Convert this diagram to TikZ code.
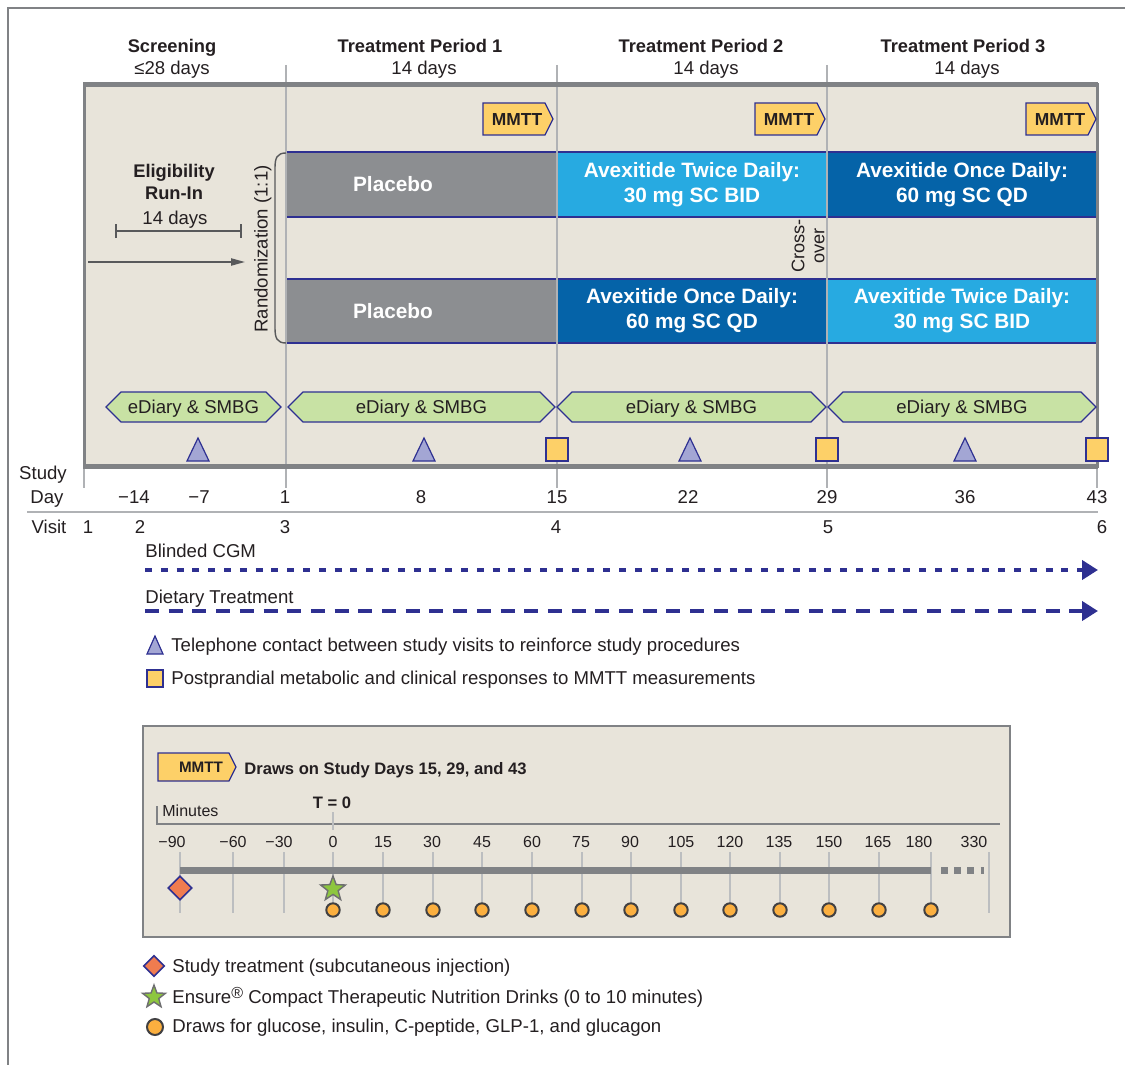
\documentclass[tikz,border=0pt]{standalone}
\usepackage{fontspec}
\setmainfont{Liberation Sans}
\usetikzlibrary{arrows.meta,shapes.geometric}
\definecolor{ink}{rgb}{0.14, 0.12, 0.13}
\definecolor{navy}{rgb}{0.18, 0.19, 0.57}
\definecolor{paper}{rgb}{0.91, 0.894, 0.855}
\definecolor{frame}{rgb}{0.5, 0.51, 0.52}
\definecolor{tlgray}{rgb}{0.69, 0.70, 0.71}
\definecolor{pgray}{rgb}{0.55, 0.557, 0.569}
\definecolor{lblue}{rgb}{0.153, 0.667, 0.882}
\definecolor{dblue}{rgb}{0.02, 0.388, 0.659}
\definecolor{diary}{rgb}{0.784, 0.886, 0.643}
\definecolor{phone}{rgb}{0.639, 0.651, 0.831}
\definecolor{tag}{rgb}{0.992, 0.816, 0.408}
\definecolor{dot}{rgb}{0.984, 0.686, 0.247}
\definecolor{dotrim}{rgb}{0.255, 0.25, 0.259}
\definecolor{inj}{rgb}{0.941, 0.486, 0.31}
\definecolor{drk}{rgb}{0.553, 0.776, 0.247}
\definecolor{drkrim}{rgb}{0.43, 0.43, 0.44}
\definecolor{dgray}{rgb}{0.345, 0.349, 0.357}
\newcommand{\fnorm}{\fontsize{9.3}{11}\selectfont}
\newcommand{\fhead}{\fontsize{9.15}{11}\selectfont\bfseries}
\newcommand{\farm}{\fontsize{10.4}{12.5}\selectfont\bfseries}
\newcommand{\fmin}{\fontsize{8}{10}\selectfont}
\newcommand{\fmmtt}{\fontsize{8.7}{10}\selectfont\bfseries}
\newcommand{\regmark}{\raisebox{2.6pt}{\fontsize{8}{8}\selectfont ®}}
\tikzset{
  txt/.style={inner sep=0pt, text=ink, font=\fnorm},
  lbl/.style={txt, text height=6.6pt, text depth=0pt},
  armbar/.style={draw=navy, line width=1pt, minimum height=32pt, inner sep=0pt,
    text=white, font=\farm, align=center},
  tagshape/.style={draw=navy, fill=tag, line width=0.6pt},
  diaryshape/.style={draw=navy, fill=diary, line width=0.6pt},
  phonemark/.style={draw=navy, fill=phone, line width=0.6pt},
  mmttmark/.style={draw=navy, fill=tag, line width=0.6pt},
  periodline/.style={draw=tlgray, line width=0.8pt},
  tick/.style={draw=tlgray!85!white, line width=1.1pt},
  cgmline/.style={draw=navy, line width=2pt, dash pattern=on 3.5pt off 4.4pt,
    -{Triangle[length=8pt,width=9.5pt]}},
  dietline/.style={draw=navy, line width=2.3pt, dash pattern=on 7pt off 4.85pt,
    -{Triangle[length=8pt,width=9.5pt]}},
  drawdot/.style={circle, fill=dot, draw=dotrim, line width=1pt, inner sep=0pt,
    minimum size=6.7pt},
  injmark/.style={diamond, fill=inj, draw=navy, line width=0.8pt, inner sep=0pt,
    minimum size=12pt},
  drinkmark/.style={star, star points=5, star point ratio=2.4, fill=drk,
    draw=drkrim, line width=0.7pt, inner sep=0pt, minimum size=13pt}
}
\begin{document}
\begin{tikzpicture}[x=0.5pt, y=-0.5pt]
  \useasboundingbox (0,0) rectangle (1125,1065);
  \draw[draw=frame, line width=1pt] (8,1065) -- (8,8) -- (1125,8);

  % period headings
  \node[lbl, font=\fhead] (hscr) at (172,46) {Screening};
  \node[lbl] (hscrd) at (172,68) {≤28 days};
  \node[lbl, font=\fhead] (htp1) at (420,46) {Treatment Period 1};
  \node[lbl] (htp1d) at (424,68) {14 days};
  \node[lbl, font=\fhead] (htp2) at (701,46) {Treatment Period 2};
  \node[lbl] (htp2d) at (706,68) {14 days};
  \node[lbl, font=\fhead] (htp3) at (963,46) {Treatment Period 3};
  \node[lbl] (htp3d) at (967,68) {14 days};

  \fill[paper] (84,85) rectangle (1097,466);

  % treatment arms
  \node[armbar, fill=pgray, minimum width=135.5pt] (pla1) at (421.5,184.5) {};
  \node[lbl, font=\farm, text=white, text height=7.4pt] (pla1t) at (393,184.5) {Placebo};
  \node[armbar, fill=lblue, minimum width=135pt] (bid1) at (692,184.5) {Avexitide Twice Daily:\\30 mg SC BID};
  \node[armbar, fill=dblue, minimum width=135pt] (qd1) at (962,184.5) {Avexitide Once Daily:\\60 mg SC QD};
  \node[armbar, fill=pgray, minimum width=135.5pt] (pla2) at (421.5,311) {};
  \node[lbl, font=\farm, text=white, text height=7.4pt] (pla2t) at (393,311) {Placebo};
  \node[armbar, fill=dblue, minimum width=135pt] (qd2) at (692,311) {Avexitide Once Daily:\\60 mg SC QD};
  \node[armbar, fill=lblue, minimum width=135pt] (bid2) at (962,311) {Avexitide Twice Daily:\\30 mg SC BID};

  \foreach \x in {286,557,827} \draw[periodline] (\x,65) -- (\x,488);
  \foreach \x in {84,1097} \draw[periodline] (\x,466) -- (\x,488);

  \draw[draw=frame, line width=1.5pt] (84,85) rectangle (1097,466);
  \draw[draw=frame, line width=2.5pt] (83,85) -- (1098,85) (83,466) -- (1098,466);

  % run-in and randomization
  \node[txt, font=\fhead, align=center] (runin) at (174,182) {Eligibility\\Run-In};
  \node[lbl] (rundays) at (175,218) {14 days};
  \coordinate (runL) at (115,231);
  \coordinate (runR) at (242,231);
  \draw[draw=dgray, line width=1pt, {Bar[width=7pt]}-{Bar[width=7pt]}] (runL) -- (runR);
  \coordinate (entryS) at (88,262);
  \coordinate (entryE) at (245,262);
  \draw[draw=dgray, line width=0.8pt, -{Triangle[length=7pt,width=3.6pt]}] (entryS) -- (entryE);
  \draw[draw=dgray, line width=0.7pt] (286,153) .. controls (277,153) and (275,158) .. (275,168)
    -- (275,328) .. controls (275,338) and (277,343) .. (286,343);
  \node[lbl, rotate=90] (rand) at (261,249) {Randomization (1:1)};
  \node[txt, rotate=90, align=center, font=\fontsize{9.1}{10}\selectfont] (cross) at (808,246) {Cross-\\over};

  % MMTT flags
  \foreach \x [count=\i] in {553,825,1096} {
    \draw[tagshape] (\x,119) -- (\x-8,103) -- (\x-70,103) -- (\x-70,135) -- (\x-8,135) -- cycle;
    \node[lbl, font=\fmmtt, text height=6.2pt] (mmtt\i) at (\x-36,119) {MMTT};
  }

  % eDiary bands, calls and MMTT visits
  \foreach \a/\b [count=\i] in {106/281,288/555,557/826,828/1096} {
    \draw[diaryshape] (\a,407) -- (\a+15,392) -- (\b-15,392) -- (\b,407) -- (\b-15,422) -- (\a+15,422) -- cycle;
    \node[lbl] (diary\i) at ({(\a+\b)/2},407) {eDiary \& SMBG};
  }
  \foreach \x in {198,424,690,965} \draw[phonemark] (\x,438) -- (\x+11,461) -- (\x-11,461) -- cycle;
  \foreach \x in {557,827,1097} \draw[mmttmark] (\x-11,438) rectangle (\x+11,461);

  % study days and visits
  \node[lbl] (study) at (43,473) {Study};
  \node[lbl] (day) at (47,497) {Day};
  \foreach \x/\d [count=\i] in {134/−14,199/−7,285/1,421/8,557/15,688/22,827/29,965/36,1097/43}
    \node[lbl] (day\i) at (\x,497) {\d};
  \draw[draw=tlgray, line width=0.9pt] (27,512) -- (1098,512);
  \node[lbl] (visit) at (49,527) {Visit};
  \foreach \x/\v [count=\i] in {88/1,140/2,285/3,556/4,828/5,1102/6}
    \node[lbl] (visit\i) at (\x,527) {\v};

  % CGM and diet
  \node[lbl, anchor=west] (cgm) at (145,551) {Blinded CGM};
  \coordinate (cgmA) at (145,570);
  \coordinate (cgmB) at (1098,570);
  \draw[cgmline] (cgmA) -- (cgmB);
  \node[lbl, anchor=west] (diet) at (145,597) {Dietary Treatment};
  \coordinate (dietA) at (145,611);
  \coordinate (dietB) at (1098,611);
  \draw[dietline] (dietA) -- (dietB);

  \draw[phonemark] (155,636) -- (163,654) -- (147,654) -- cycle;
  \node[lbl, anchor=west] (phonekey) at (171,645) {Telephone contact between study visits to reinforce study procedures};
  \draw[mmttmark] (147,670) rectangle (163,687);
  \node[lbl, anchor=west] (mmttkey) at (171,678) {Postprandial metabolic and clinical responses to MMTT measurements};

  % MMTT sampling schedule
  \draw[draw=frame, fill=paper, line width=0.8pt] (143,726) rectangle (1010,937);
  \draw[tagshape] (236,767) -- (229,753) -- (158,753) -- (158,781) -- (229,781) -- cycle;
  \node[lbl, font=\fontsize{7.6}{9}\selectfont\bfseries, text height=5.5pt] (mmtt4) at (201,767) {MMTT};
  \node[lbl, font=\fontsize{8.3}{10}\selectfont\bfseries, text height=6pt, anchor=west] (draws) at (244,768) {Draws on Study Days 15, 29, and 43};
  \node[lbl, font=\fontsize{8.3}{10}\selectfont\bfseries, text height=6pt] (tzero) at (332,802) {T = 0};
  \node[lbl, font=\fmin, text height=5.7pt, anchor=west] (minutes) at (162,811) {Minutes};
  \draw[draw=frame, line width=1pt] (157,806) -- (157,824) -- (1000,824);
  \draw[tick] (333,812) -- (333,830);
  \foreach \x/\m [count=\i] in {172/−90,233/−60,279/−30,333/0,383/15,432/30,482/45,532/60,581/75,630/90,681/105,730/120,779/135,829/150,878/165,919/180,974/330}
    \node[lbl, font=\fmin, text height=5.7pt] (min\i) at (\x,842) {\m};
  \foreach \x in {180,233,284,989} \draw[tick] (\x,852) -- (\x,913);
  \foreach \x in {333,383,433,482,532,582,631,681,730,780,829,879,931} \draw[tick] (\x,852) -- (\x,910);
  \draw[draw=frame, line width=3.5pt] (180,870) -- (931,870);
  \draw[draw=frame, line width=3.5pt, dash pattern=on 3.3pt off 3.3pt] (941,870) -- (984,870);
  \node[injmark] (inj) at (180,888) {};
  \node[drinkmark] (drink) at (333,889) {};
  \foreach \x [count=\i] in {333,383,433,482,532,582,631,681,730,780,829,879,931}
    \node[drawdot] (draw\i) at (\x,910) {};

  % symbol key
  \node[injmark, minimum size=10.5pt] (injkey) at (154,966) {};
  \node[lbl, anchor=west] (injtxt) at (172,966) {Study treatment (subcutaneous injection)};
  \node[drinkmark, minimum size=12pt] (drinkkey) at (154,997) {};
  \node[lbl, anchor=west] (drinktxt) at (172,997) {Ensure\regmark{} Compact Therapeutic Nutrition Drinks (0 to 10 minutes)};
  \node[drawdot, minimum size=8pt] (drawkey) at (155,1027) {};
  \node[lbl, anchor=west] (drawtxt) at (172,1026) {Draws for glucose, insulin, C-peptide, GLP-1, and glucagon};
\end{tikzpicture}
\end{document}
